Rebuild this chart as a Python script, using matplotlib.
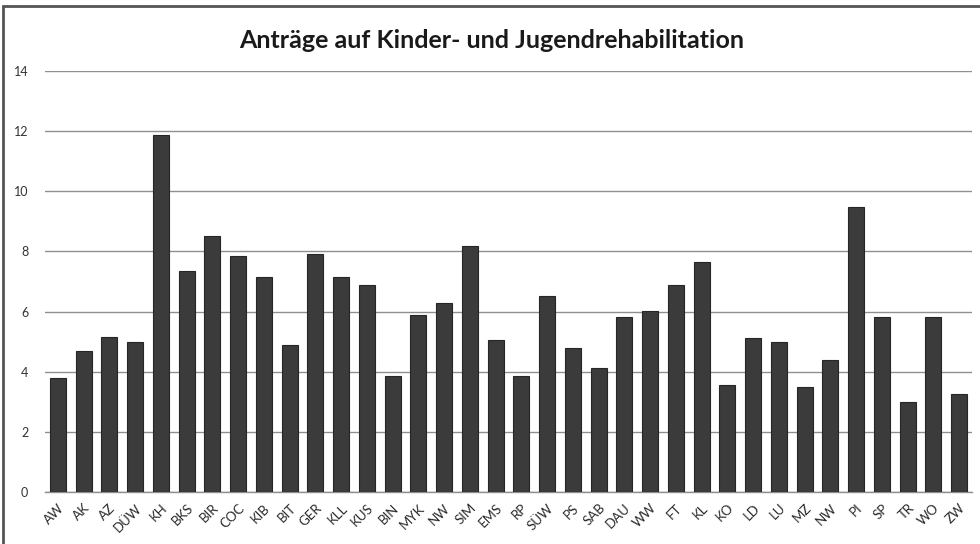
import matplotlib.pyplot as plt
import numpy as np

# Kreise / kreisfreie Städte
kreise = ['AW', 'AK', 'AZ', 'DÜW', 'KH', 'BKS', 'BIR', 'COC', 'KIB', 'BIT',
          'GER', 'KLL', 'KUS', 'BIN', 'MYK', 'NW', 'SIM', 'EMS', 'RP', 'SÜW',
          'PS', 'SAB', 'DAU', 'WW', 'FT', 'KL', 'KO', 'LD', 'LU', 'MZ',
          'NW', 'PI', 'SP', 'TR', 'WO', 'ZW']

# Anträge je Kreis
antraege = [3.80, 4.70, 5.15, 4.98, 11.87, 7.35, 8.50, 7.86, 7.14, 4.89,
            7.90, 7.14, 6.90, 3.87, 5.87, 6.29, 8.17, 5.04, 3.87, 6.53,
            4.78, 4.13, 5.82, 6.01, 6.90, 7.64, 3.56, 5.11, 4.99, 3.50,
            4.38, 9.48, 5.82, 2.99, 5.82, 3.27]

y_ticks = [0, 2, 4, 6, 8, 10, 12, 14]

plt.rcParams['font.family'] = ['Lato', 'DejaVu Sans']

fig = plt.figure(figsize=(9.8, 5.44), dpi=100)
ax = fig.add_axes([45 / 980, 52 / 544, 927 / 980, 421 / 544])

x = np.arange(len(kreise))
ax.bar(x, antraege, width=0.62, color='#3b3b3b', edgecolor='#262626',
       linewidth=0.8, zorder=3)

ax.set_xlim(-0.5, len(kreise) - 0.5)
ax.set_ylim(0, 14)
ax.set_yticks(y_ticks)
ax.set_yticklabels([str(t) for t in y_ticks], fontsize=9, color='#333333')
ax.tick_params(axis='y', length=0, pad=12)

ax.set_xticks(x)
ax.set_xticklabels(kreise, rotation=45, ha='right', rotation_mode='anchor',
                   fontsize=9.5, color='#2a2a2a')
ax.tick_params(axis='x', length=0, pad=7)

ax.grid(axis='y', color='#8f8f8f', linewidth=1.0, zorder=0)
for s in ['top', 'right', 'left']:
    ax.spines[s].set_visible(False)
ax.spines['bottom'].set_color('#8f8f8f')
ax.spines['bottom'].set_linewidth(1.0)

fig.text(492 / 980, 1 - 40 / 544, 'Anträge auf Kinder- und Jugendrehabilitation',
         ha='center', va='center', fontsize=18, fontweight='bold', color='#1a1a1a')

# Rahmen um das Diagramm
rahmen = plt.Rectangle((3 / 980, -0.01), 1.1, 1 - 6 / 544 + 0.01,
                       transform=fig.transFigure, fill=False,
                       edgecolor='#555555', linewidth=2.0)
fig.patches.append(rahmen)

fig.savefig('out.png', dpi=100)
